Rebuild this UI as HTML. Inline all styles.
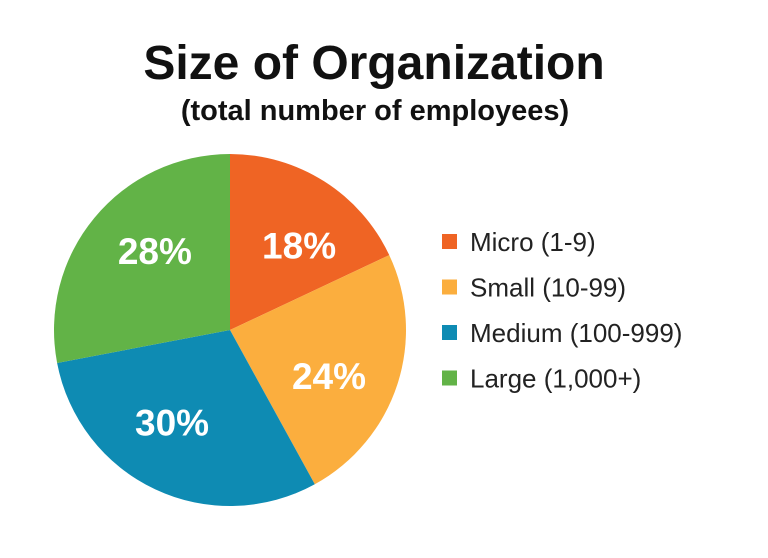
<!DOCTYPE html>
<html><head><meta charset="utf-8"><style>
html,body{margin:0;padding:0;background:#fff;}
body{width:768px;height:553px;overflow:hidden;font-family:"Liberation Sans",sans-serif;}
</style></head><body>
<svg width="768" height="553" viewBox="0 0 768 553">
<text x="374" y="79" text-anchor="middle" font-size="48" font-weight="bold" fill="#111">Size of Organization</text>
<text x="375" y="120" text-anchor="middle" font-size="29" font-weight="bold" fill="#111">(total number of employees)</text>
<g id="slices"></g>
<g id="labels"></g>
<g id="legend"></g>
</svg>
<script>
const categories = ["Micro (1-9)", "Small (10-99)", "Medium (100-999)", "Large (1,000+)"];
const values = [18, 24, 30, 28];
const colors = ["#EF6424", "#FBAE3E", "#0E8BB3", "#62B347"];
const NS = "http://www.w3.org/2000/svg";
const cx = 230, cy = 330, r = 176;
const total = values.reduce((a, b) => a + b, 0);
function pt(angle, rad) { return [cx + rad * Math.sin(angle), cy - rad * Math.cos(angle)]; }
const sg = document.getElementById("slices"), lg = document.getElementById("labels"), leg = document.getElementById("legend");
let a0 = 0;
values.forEach((v, i) => {
  const a1 = a0 + v / total * 2 * Math.PI;
  const p0 = pt(a0, r), p1 = pt(a1, r);
  const large = (a1 - a0) > Math.PI ? 1 : 0;
  const path = document.createElementNS(NS, "path");
  path.setAttribute("d", `M${cx},${cy} L${p0[0]},${p0[1]} A${r},${r} 0 ${large} 1 ${p1[0]},${p1[1]} Z`);
  path.setAttribute("fill", colors[i]);
  
  
  sg.appendChild(path);
  const m = (a0 + a1) / 2 + 0.12;
  const lp = pt(m, r * 0.62);
  const t = document.createElementNS(NS, "text");
  t.setAttribute("x", lp[0]); t.setAttribute("y", lp[1] + 13);
  t.setAttribute("text-anchor", "middle");
  t.setAttribute("font-size", "37"); t.setAttribute("font-weight", "bold"); t.setAttribute("fill", "#fff");
  t.textContent = v + "%";
  
  
  lg.appendChild(t);
  const y = 242 + i * 45.5;
  const g = document.createElementNS(NS, "g");
  
  
  const rect = document.createElementNS(NS, "rect");
  rect.setAttribute("x", 442); rect.setAttribute("y", y - 8); rect.setAttribute("width", 15); rect.setAttribute("height", 15);
  rect.setAttribute("fill", colors[i]);
  const lt = document.createElementNS(NS, "text");
  lt.setAttribute("x", 470); lt.setAttribute("y", y + 9);
  lt.setAttribute("font-size", "26"); lt.setAttribute("fill", "#222");
  lt.textContent = categories[i];
  g.appendChild(rect); g.appendChild(lt);
  leg.appendChild(g);
  a0 = a1;
});
</script>
</body></html>
